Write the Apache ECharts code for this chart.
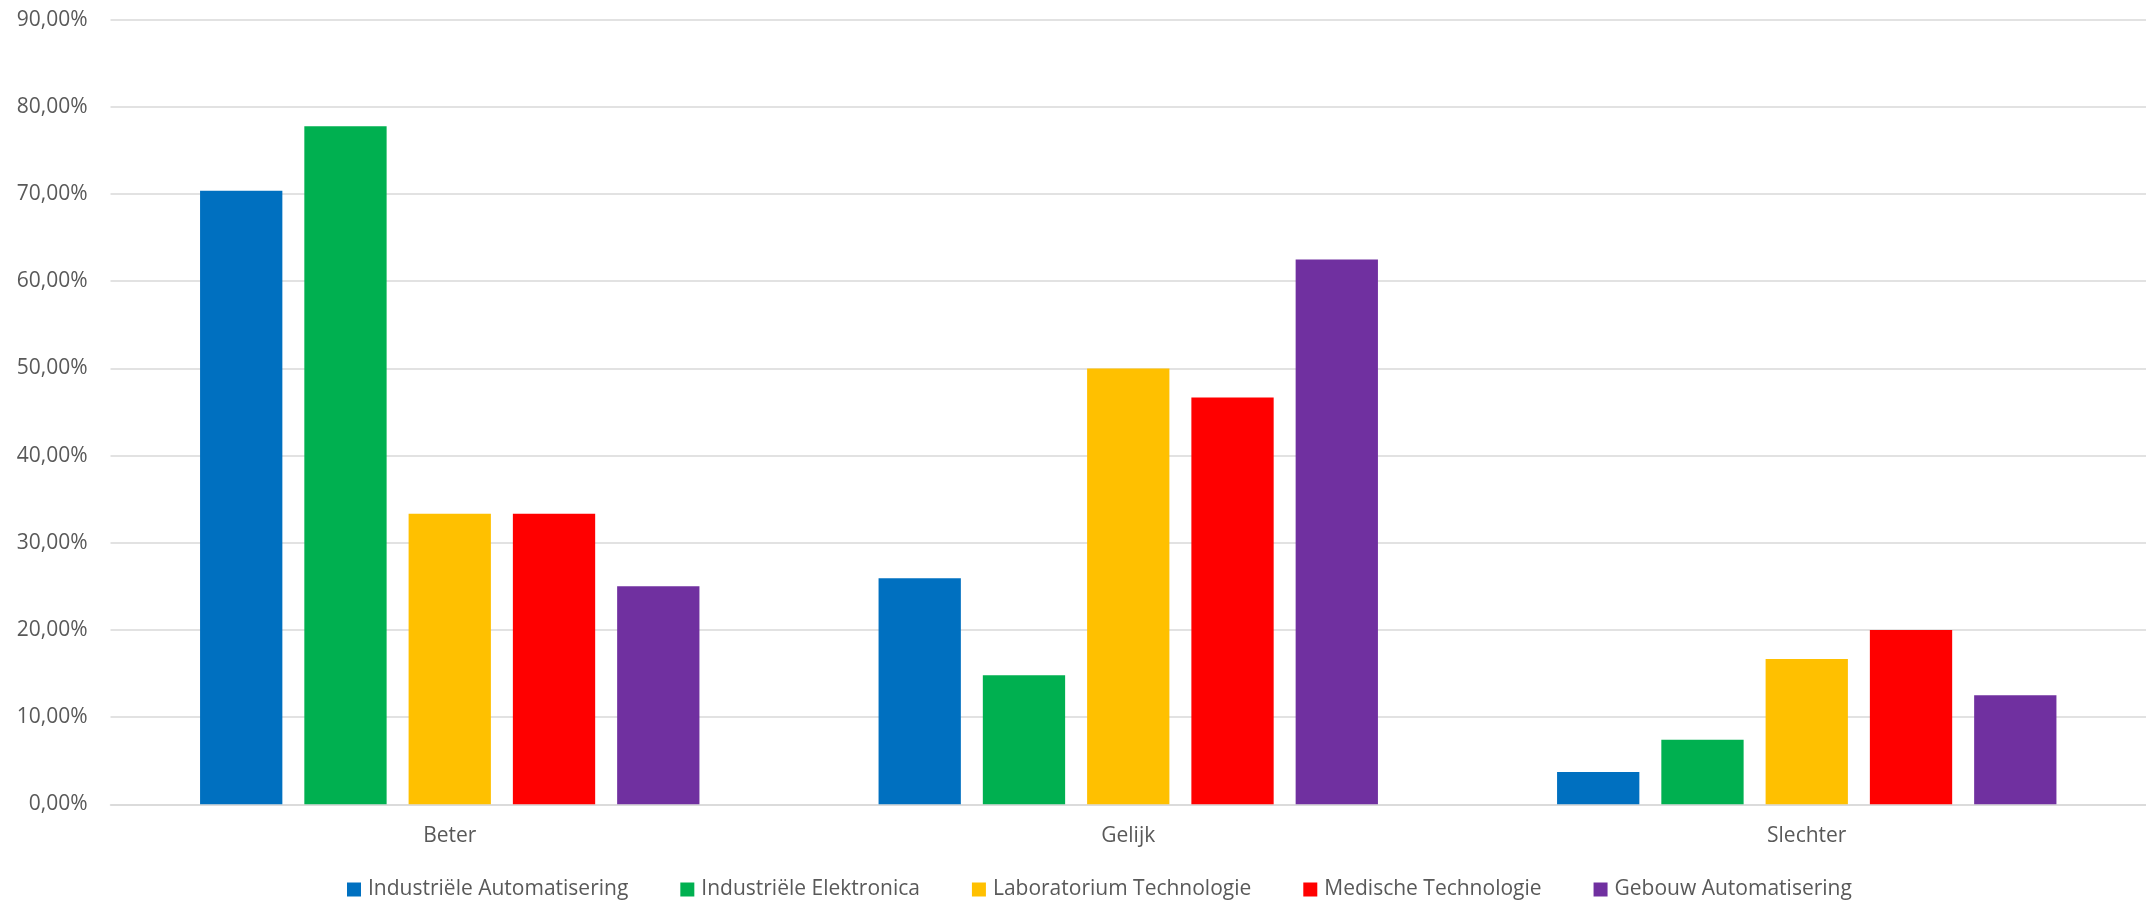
<!DOCTYPE html>
<html>
<head>
<meta charset="utf-8">
<script src="https://cdn.jsdelivr.net/npm/echarts@6/dist/echarts.min.js"></script>
<style>
html,body{margin:0;padding:0;background:#fff;}
#chart{width:2146px;height:903px;}
</style>
</head>
<body>
<div id="chart"></div>
<script>
const categories = ['Beter', 'Gelijk', 'Slechter'];
const seriesNames = ['Industriële Automatisering', 'Industriële Elektronica', 'Laboratorium Technologie', 'Medische Technologie', 'Gebouw Automatisering'];
const industrieleAutomatisering = [70.37, 25.93, 3.70];
const industrieleElektronica = [77.78, 14.81, 7.41];
const laboratoriumTechnologie = [33.33, 50.00, 16.67];
const medischeTechnologie = [33.33, 46.67, 20.00];
const gebouwAutomatisering = [25.00, 62.50, 12.50];
const yTicks = [0, 10, 20, 30, 40, 50, 60, 70, 80, 90];

const colors = ['#0070C0', '#00B050', '#FFC000', '#FF0000', '#7030A0'];
const allData = [industrieleAutomatisering, industrieleElektronica, laboratoriumTechnologie, medischeTechnologie, gebouwAutomatisering];
const FONT = '"Open Sans"';
const TXT = '#595959';

const chart = echarts.init(document.getElementById('chart'));
chart.setOption({
  animation: false,
  backgroundColor: '#ffffff',
  textStyle: { fontFamily: FONT },
  grid: { left: 110.5, width: 2043, top: 19.7, bottom: 98.7, containLabel: false },
  legend: {
    data: seriesNames,
    top: 879,
    left: 347,
    padding: 0,
    icon: 'rect',
    itemWidth: 14,
    itemHeight: 14,
    itemGap: 52,
    textStyle: { color: TXT, fontSize: 21, fontFamily: FONT, padding: [0, 0, 0, 2] }
  },
  xAxis: {
    type: 'category',
    data: categories,
    axisLine: { show: true, lineStyle: { color: '#D9D9D9', width: 1.5 } },
    axisTick: { show: false },
    axisLabel: { color: TXT, fontSize: 21, fontFamily: FONT, margin: 21 },
    splitLine: { show: false }
  },
  yAxis: {
    type: 'value',
    min: yTicks[0],
    max: yTicks[yTicks.length - 1],
    interval: 10,
    axisLine: { show: false },
    axisTick: { show: false },
    axisLabel: {
      color: TXT, fontSize: 21, fontFamily: FONT, margin: 23,
      formatter: v => v.toFixed(2).replace('.', ',') + '%'
    },
    splitLine: { show: true, lineStyle: { color: '#D9D9D9', width: 1.5 } }
  },
  series: seriesNames.map((name, i) => ({
    name: name,
    type: 'bar',
    data: allData[i],
    barGap: '26.7%',
    barCategoryGap: '26.4%',
    itemStyle: { color: colors[i] }
  }))
});
</script>
</body>
</html>
